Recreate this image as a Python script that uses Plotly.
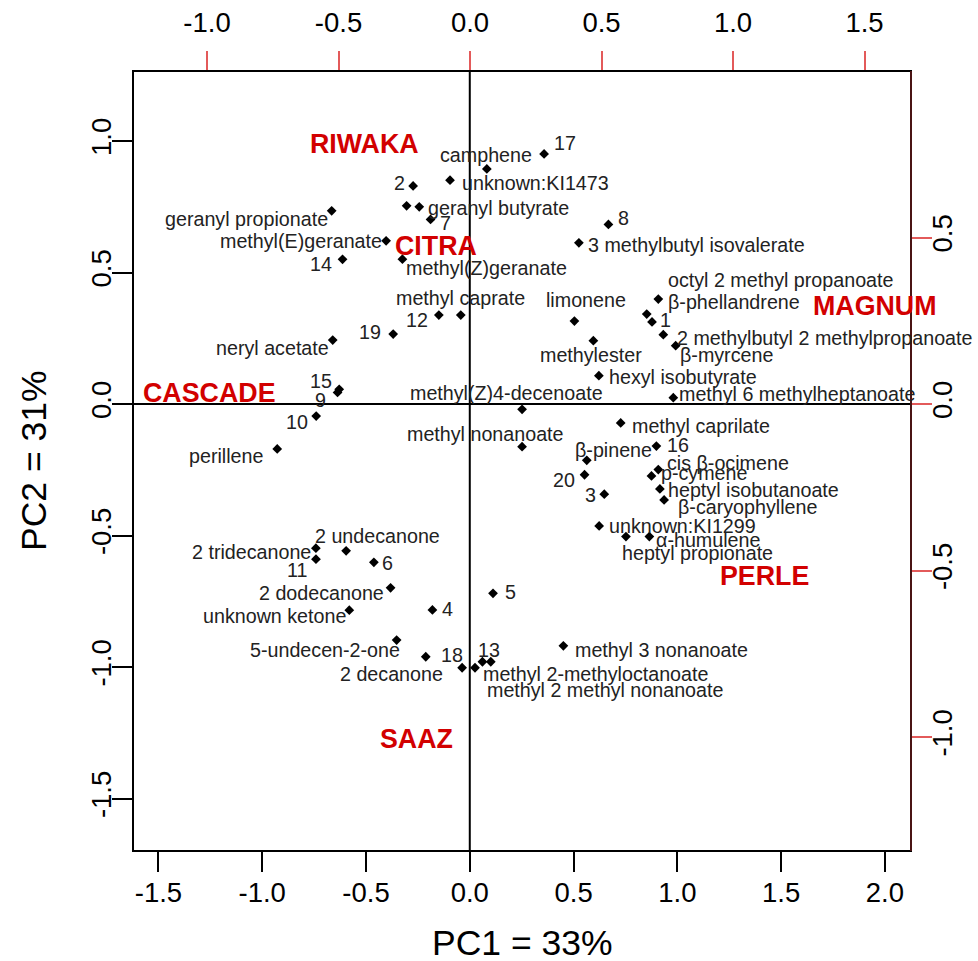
import plotly.graph_objects as go

# ---- sample scores (bottom / left axes) ----
sample_ids = [str(i) for i in range(1, 21)]
score_pc1 = [0.878, -0.273, 0.648, -0.180, 0.112, -0.462, -0.189, 0.668, -0.637, -0.740,
             -0.741, -0.149, 0.061, -0.613, -0.629, 0.899, 0.358, -0.212, -0.369, 0.553]
score_pc2 = [0.312, 0.829, -0.343, -0.783, -0.720, -0.602, 0.702, 0.683, 0.044, -0.046,
             -0.590, 0.338, -0.980, 0.550, 0.056, -0.160, 0.951, -0.961, 0.266, -0.269]

# ---- compound loadings (top / right axes) ----
compounds = [
    "camphene", "unknown:KI1473", "geranyl butyrate", "", "geranyl propionate",
    "methyl(E)geranate", "methyl(Z)geranate", "methyl caprate", "neryl acetate", "perillene",
    "3 methylbutyl isovalerate", "limonene", "methylester", "hexyl isobutyrate",
    "methyl(Z)4-decenoate", "methyl nonanoate", "β-phellandrene", "octyl 2 methyl propanoate",
    "2 methylbutyl 2 methylpropanoate", "β-myrcene", "methyl 6 methylheptanoate",
    "methyl caprilate", "β-pinene", "cis β-ocimene", "p-cymene", "heptyl isobutanoate",
    "β-caryophyllene", "unknown:KI1299", "heptyl propionate", "α-humulene",
    "2 undecanone", "2 tridecanone", "2 dodecanone", "unknown ketone", "5-undecen-2-one",
    "2 decanone", "methyl 2-methyloctanoate", "methyl 2 methyl nonanoate", "methyl 3 nonanoate",
]
load_pc1 = [0.064, -0.076, -0.193, -0.241, -0.526,
            -0.319, -0.257, -0.035, -0.522, -0.733,
            0.414, 0.397, 0.469, 0.490,
            0.198, 0.198, 0.716, 0.672,
            0.735, 0.782, 0.773,
            0.573, 0.444, 0.716, 0.690, 0.722,
            0.738, 0.491, 0.593, 0.682,
            -0.471, -0.586, -0.302, -0.459, -0.279,
            -0.030, 0.019, 0.079, 0.355]
load_pc2 = [0.706, 0.672, 0.592, 0.595, 0.580,
            0.490, 0.435, 0.267, 0.192, -0.135,
            0.484, 0.249, 0.190, 0.085,
            -0.016, -0.128, 0.315, 0.270,
            0.208, 0.175, 0.019,
            -0.057, -0.169, -0.197, -0.216, -0.255,
            -0.288, -0.366, -0.398, -0.398,
            -0.441, -0.433, -0.552, -0.619, -0.709,
            -0.792, -0.792, -0.774, -0.726]

# ---- hop varieties (placed in score space) ----
hops = ["RIWAKA", "CITRA", "CASCADE", "MAGNUM", "PERLE", "SAAZ"]
hop_pc1 = [-0.509, -0.164, -1.254, 1.950, 1.422, -0.255]
hop_pc2 = [0.989, 0.601, 0.043, 0.374, -0.653, -1.274]

# ---- axis ticks ----
pc1_ticks = [-1.5, -1.0, -0.5, 0.0, 0.5, 1.0, 1.5, 2.0]
pc2_ticks = [-1.5, -1.0, -0.5, 0.0, 0.5, 1.0]
load1_ticks = [-1.0, -0.5, 0.0, 0.5, 1.0, 1.5]
load2_ticks = [-1.0, -0.5, 0.0, 0.5]

# label placement: (side, dx px, dy px downward)
score_label_pos = {
    "1": ("left", 8, -2), "2": ("right", -8, -3), "3": ("right", -8, 1),
    "4": ("left", 10, -1), "5": ("left", 12, -1), "6": ("left", 8, 1),
    "7": ("left", 9, 4), "8": ("left", 10, -6), "9": ("right", -12, 8),
    "10": ("right", -8, 6), "11": ("right", -9, 11), "12": ("right", -11, 5),
    "13": ("center", 7, -12), "14": ("right", -11, 5), "15": ("right", -7, -8),
    "16": ("left", 11, -1), "17": ("left", 10, -11), "18": ("left", 15, -2),
    "19": ("right", -12, -2), "20": ("right", -10, 5),
}
compound_label_pos = {
    "camphene": ("center", -1, -14), "unknown:KI1473": ("left", 12, 3),
    "geranyl butyrate": ("left", 9, 1), "geranyl propionate": ("right", -4, 8),
    "methyl(E)geranate": ("right", -4, 0), "methyl(Z)geranate": ("left", 4, 9),
    "methyl caprate": ("center", 0, -17), "neryl acetate": ("right", -4, 8),
    "perillene": ("right", -14, 7), "3 methylbutyl isovalerate": ("left", 9, 2),
    "limonene": ("center", 12, -21), "methylester": ("center", -2, 14),
    "hexyl isobutyrate": ("left", 10, 1), "methyl(Z)4-decenoate": ("center", -16, -16),
    "methyl nonanoate": ("center", -37, -13), "β-phellandrene": ("left", 10, 3),
    "octyl 2 methyl propanoate": ("left", 21, -34),
    "2 methylbutyl 2 methylpropanoate": ("left", 14, 3), "β-myrcene": ("left", 4, 9),
    "methyl 6 methylheptanoate": ("left", 6, -4), "methyl caprilate": ("left", 11, 3),
    "β-pinene": ("left", -12, -10), "cis β-ocimene": ("left", 9, -7),
    "p-cymene": ("left", 10, -3), "heptyl isobutanoate": ("left", 8, 1),
    "β-caryophyllene": ("left", 14, 7), "unknown:KI1299": ("left", 10, 0),
    "heptyl propionate": ("left", -4, 16), "α-humulene": ("left", 7, 3),
    "2 undecanone": ("left", -31, -15), "2 tridecanone": ("right", -5, 4),
    "2 dodecanone": ("right", -7, 5), "unknown ketone": ("right", -3, 6),
    "5-undecen-2-one": ("right", 3, 10), "2 decanone": ("right", -19, 6),
    "methyl 2-methyloctanoate": ("left", 8, 6), "methyl 2 methyl nonanoate": ("left", -4, 28),
    "methyl 3 nonanoate": ("left", 12, 4),
}

SANS = "Liberation Sans, Arial, Helvetica, sans-serif"
LABEL_FONT = dict(family=SANS, size=19.7, color="#222222")
HOP_RED = "#d20000"
TICK_RED = "#e35a5a"

fig = go.Figure()

fig.add_trace(go.Scatter(
    x=score_pc1, y=score_pc2, mode="markers", xaxis="x", yaxis="y",
    marker=dict(symbol="diamond", size=7.5, color="black"), hoverinfo="skip",
))
fig.add_trace(go.Scatter(
    x=load_pc1, y=load_pc2, mode="markers", xaxis="x2", yaxis="y2",
    marker=dict(symbol="diamond", size=7.5, color="black"), hoverinfo="skip",
))

annotations = []


def point_label(text, x, y, pos, xref, yref):
    side, dx, dy = pos
    pad = {"left": -2, "right": 2, "center": 0}[side]
    annotations.append(dict(
        text=text, x=x, y=y, xref=xref, yref=yref, showarrow=False,
        xanchor=side, yanchor="middle", xshift=dx + pad, yshift=-dy,
        font=LABEL_FONT,
    ))


for sid, px, py in zip(sample_ids, score_pc1, score_pc2):
    point_label(sid, px, py, score_label_pos[sid], "x", "y")

for name, px, py in zip(compounds, load_pc1, load_pc2):
    if name:
        point_label(name, px, py, compound_label_pos[name], "x2", "y2")

for name, hx, hy in zip(hops, hop_pc1, hop_pc2):
    annotations.append(dict(
        text=f"<b>{name}</b>", x=hx, y=hy, xref="x", yref="y", showarrow=False,
        xanchor="center", yanchor="middle",
        font=dict(family=SANS, size=26.8, color=HOP_RED),
    ))

# axis titles
annotations.append(dict(
    text="PC1 = 33%", x=0.5, y=0, xref="paper", yref="paper", showarrow=False,
    xanchor="center", yanchor="middle", yshift=-92,
    font=dict(family=SANS, size=35.5, color="black"),
))
annotations.append(dict(
    text="PC2 = 31%", x=0, y=0.5, xref="paper", yref="paper", showarrow=False,
    xanchor="center", yanchor="middle", xshift=-99, textangle=-90,
    font=dict(family=SANS, size=35.5, color="black"),
))

tick_font = dict(family=SANS, size=27.5, color="black")
common_axis = dict(showgrid=False, zeroline=False, showline=False, automargin=False,
                   ticks="outside", tickwidth=1.5, tickfont=tick_font)

fig.update_layout(
    width=978, height=961,
    margin=dict(l=133, r=67, t=71, b=110, autoexpand=False),
    paper_bgcolor="white", plot_bgcolor="white",
    showlegend=False,
    annotations=annotations,
    xaxis=dict(
        range=[-1.6225, 2.1257], tickvals=pc1_ticks, ticktext=[f"{v:.1f}" for v in pc1_ticks],
        ticklen=20, tickcolor="black", ticklabelstandoff=-3,
        side="bottom", anchor="y", **common_axis,
    ),
    yaxis=dict(
        range=[-1.6996, 1.2662], tickvals=pc2_ticks, ticktext=[f"{v:.1f}" for v in pc2_ticks],
        ticklen=20, tickcolor="black", tickangle=-90, ticklabelstandoff=-10,
        side="left", anchor="x", **common_axis,
    ),
    xaxis2=dict(
        range=[-1.2814, 1.6768], tickvals=load1_ticks, ticktext=[f"{v:.1f}" for v in load1_ticks],
        ticklen=19, tickcolor=TICK_RED, ticklabelstandoff=8,
        side="top", overlaying="x", anchor="y", **common_axis,
    ),
    yaxis2=dict(
        range=[-1.3423, 1.0], tickvals=load2_ticks, ticktext=[f"{v:.1f}" for v in load2_ticks],
        ticklen=20, tickcolor=TICK_RED, tickangle=-90, ticklabelstandoff=-13,
        side="right", overlaying="y", anchor="x", **common_axis,
    ),
    shapes=[
        dict(type="line", xref="x", yref="paper", x0=0, x1=0, y0=0, y1=1,
             line=dict(color="black", width=2)),
        dict(type="line", xref="paper", yref="y", x0=0, x1=1, y0=0, y1=0,
             line=dict(color="black", width=2)),
        dict(type="rect", xref="paper", yref="paper", x0=0, x1=1, y0=0, y1=1,
             line=dict(color="black", width=2)),
        dict(type="line", xref="paper", yref="paper", x0=1, x1=1, y0=0, y1=1,
             line=dict(color="#4a1414", width=2)),
    ],
)

fig.write_html("out.html", config={"responsive": False})
